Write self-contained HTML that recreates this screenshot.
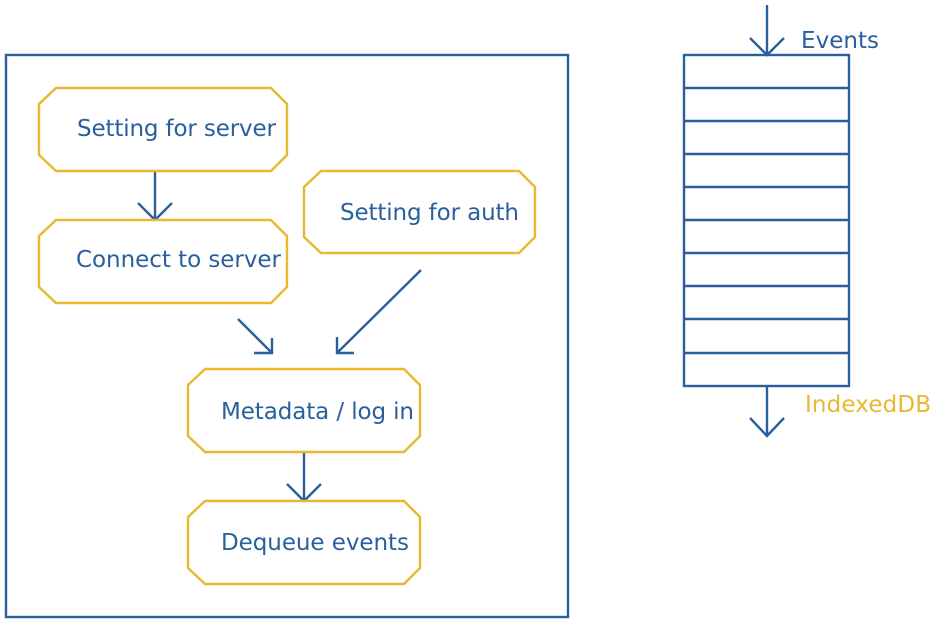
<!DOCTYPE html>
<html><head><meta charset="utf-8"><style>
html,body{margin:0;padding:0;background:#fff;}
svg{display:block;}
text{font-family:"DejaVu Sans","Liberation Sans",sans-serif;font-size:23px;fill:#2a5f9e;}
</style></head><body>
<svg width="931" height="622" viewBox="0 0 931 622" xmlns="http://www.w3.org/2000/svg">
<g fill="none" stroke="#2a5f9e" stroke-width="2.4">
<rect x="6" y="55" width="562" height="562"/>
<rect x="684" y="55" width="165" height="331"/>
<path d="M684 88H849M684 121H849M684 154H849M684 187H849M684 220H849M684 253H849M684 286H849M684 319H849M684 353H849"/>
<path d="M767 5V56M750 38L767 55L784 38"/>
<path d="M767 386V436M750 418L767 436L784 418"/>
<path d="M155 171V220M138 203L155 220L172 203"/>
<path d="M304 452V501M287 484L304 501L321 484"/>
<path d="M238 319L272 353M272 338V353H254"/>
<path d="M421 270L337 353M337 337V353H354"/>
</g>
<g fill="#fff" stroke="#e8b830" stroke-width="2.4">
<path d="M56 88H271L287 104V155L271 171H56L39 155V104Z"/>
<path d="M56 220H271L287 236V287L271 303H56L39 287V236Z"/>
<path d="M321 171H519L535 187V237L519 253H321L304 237V187Z"/>
<path d="M205 369H404L420 385V436L404 452H205L188 436V385Z"/>
<path d="M205 501H404L420 517V568L404 584H205L188 568V517Z"/>
</g>
<text x="77" y="136" textLength="199" lengthAdjust="spacing">Setting for server</text>
<text x="76" y="267" textLength="205" lengthAdjust="spacing">Connect to server</text>
<text x="340" y="220" textLength="179" lengthAdjust="spacing">Setting for auth</text>
<text x="221" y="419" textLength="193" lengthAdjust="spacing">Metadata / log in</text>
<text x="221" y="550" textLength="188" lengthAdjust="spacing">Dequeue events</text>
<text x="801" y="48" textLength="78" lengthAdjust="spacing">Events</text>
<text x="805" y="412" textLength="126" lengthAdjust="spacing" style="fill:#e8b830">IndexedDB</text>
</svg>
</body></html>
